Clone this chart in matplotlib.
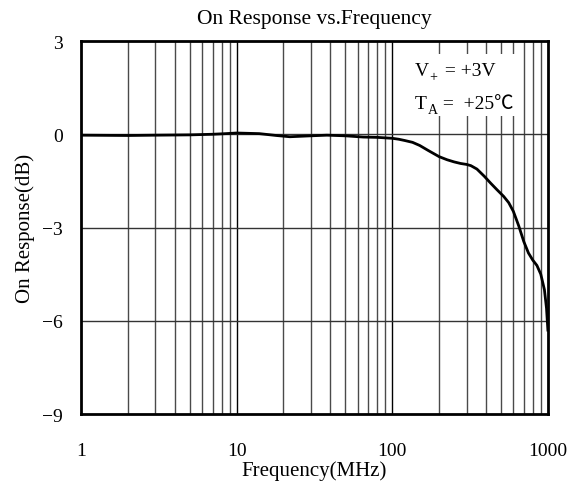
import numpy as np
import matplotlib
matplotlib.use('Agg')
import matplotlib.pyplot as plt
from matplotlib.ticker import FixedLocator, NullFormatter

# Values
freq_mhz = [1, 2, 3, 5, 7, 8.5, 10, 14, 18, 22, 30, 38, 50, 65, 80, 100,
            110, 120, 135, 150, 170, 200, 225, 250, 275, 300, 320, 350,
            390, 430, 470, 520, 560, 600, 650, 700, 750, 800, 850, 900,
            950, 980, 1000]
resp_db = [-0.03, -0.04, -0.03, -0.02, 0.0, 0.02, 0.04, 0.02, -0.04, -0.08,
           -0.05, -0.03, -0.05, -0.09, -0.1, -0.13, -0.16, -0.2, -0.26,
           -0.36, -0.52, -0.72, -0.82, -0.89, -0.94, -0.97, -1.01, -1.12,
           -1.35, -1.58, -1.78, -2.0, -2.2, -2.48, -2.95, -3.45, -3.82,
           -4.05, -4.22, -4.5, -5.0, -5.6, -6.3]

x_ticks = [1, 10, 100, 1000]
x_labels = ['1', '10', '100', '1000']
y_ticks = [3, 0, -3, -6, -9]
y_labels = ['3', '0', '\u22123', '\u22126', '\u22129']

FONT = ['Liberation Serif', 'Noto Sans CJK SC']
plt.rcParams['font.family'] = FONT


def setup():
    fig = plt.figure(figsize=(5.81, 4.89), dpi=100)
    ax = fig.add_axes([0.1394, 0.1513, 0.8036, 0.7628])
    return fig, ax


def draw_grid(ax):
    minors = [m * d for d in [1, 10, 100] for m in range(2, 10)]
    for f in minors:
        ax.axvline(f, color='#4a4a4a', lw=1.0, zorder=1)
    for f in x_ticks[1:-1]:
        ax.axvline(f, color='black', lw=1.0, zorder=1)
    for y in y_ticks[1:-1]:
        ax.axhline(y, color='#333333', lw=1.0, zorder=1)


def draw_curve(ax):
    ax.plot(freq_mhz, resp_db, color='black', lw=2.0, zorder=3,
            solid_joinstyle='round')


def sub_label(ax, x, y, main, sub, rest):
    # main letter, small subscript, then the rest of the line
    t = ax.text(x, y, main, transform=ax.transAxes, fontsize=14,
                va='bottom', ha='left', zorder=5)
    ax.annotate(sub, xy=(1, 0), xycoords=t, xytext=(0.5, -3),
                textcoords='offset points', fontsize=10, va='bottom',
                ha='left', zorder=5)
    ax.annotate(rest, xy=(1, 0), xycoords=t, xytext=(8, 0),
                textcoords='offset points', fontsize=14, va='bottom',
                ha='left', zorder=5)


def annotate(ax):
    ax.add_patch(plt.Rectangle((0.683, 0.799), 0.253, 0.166,
                               transform=ax.transAxes, facecolor='white',
                               edgecolor='none', zorder=2))
    sub_label(ax, 0.715, 0.897, 'V', '+', ' = +3V')
    sub_label(ax, 0.715, 0.811, 'T', 'A', ' =  +25\u2103')


def beautify_axes(ax):
    ax.set_xscale('log')
    ax.set_xlim(1, 1000)
    ax.set_ylim(-9, 3)
    ax.xaxis.set_major_locator(FixedLocator(x_ticks))
    ax.set_xticklabels(x_labels)
    ax.xaxis.set_minor_formatter(NullFormatter())
    ax.set_yticks(y_ticks)
    ax.set_yticklabels(y_labels)
    ax.tick_params(axis='both', which='both', length=0, labelsize=14)
    ax.tick_params(axis='x', pad=20)
    ax.tick_params(axis='y', pad=13)
    for s in ax.spines.values():
        s.set_linewidth(2.0)
        s.set_zorder(6)
    ax.set_title('On Response vs.Frequency', fontsize=15.5, pad=13)
    ax.set_xlabel('Frequency(MHz)', fontsize=15, labelpad=1)
    ax.set_ylabel('On Response(dB)', fontsize=15, labelpad=5)


fig, ax = setup()
draw_grid(ax)
draw_curve(ax)
annotate(ax)
beautify_axes(ax)
fig.savefig('out.png', dpi=100)
